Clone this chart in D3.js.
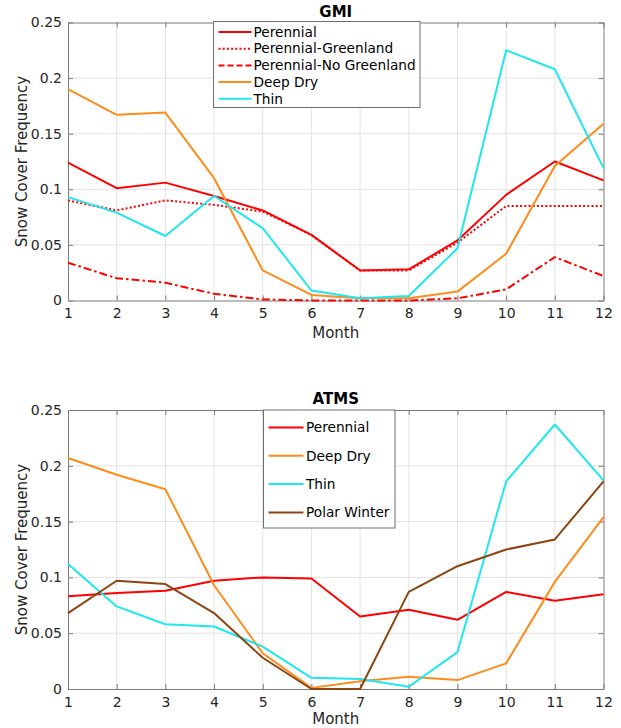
<!DOCTYPE html>
<html>
<head>
<meta charset="utf-8">
<script src="https://cdn.jsdelivr.net/npm/d3@7"></script>
<style>
  html, body { margin: 0; padding: 0; background: #fff; }
  svg { display: block; font-family: "DejaVu Sans", sans-serif; }
</style>
</head>
<body>
<svg id="chart" width="621" height="728"></svg>
<script>
// Monthly snow cover frequency by snow class
const months = [1, 2, 3, 4, 5, 6, 7, 8, 9, 10, 11, 12];
const yTicks = [0, 0.05, 0.1, 0.15, 0.2, 0.25];
const yTickLabels = ["0", "0.05", "0.1", "0.15", "0.2", "0.25"];

// GMI panel
const gmiPerennial      = [0.124, 0.101, 0.106, 0.094, 0.081, 0.059, 0.027, 0.028, 0.054, 0.095, 0.125, 0.108];
const gmiPerGreenland   = [0.090, 0.081, 0.090, 0.086, 0.080, 0.059, 0.027, 0.027, 0.052, 0.085, 0.085, 0.085];
const gmiPerNoGreenland = [0.034, 0.020, 0.016, 0.006, 0.001, 0.000, 0.000, 0.000, 0.002, 0.010, 0.039, 0.022];
const gmiDeepDry        = [0.190, 0.167, 0.169, 0.110, 0.027, 0.005, 0.002, 0.002, 0.008, 0.042, 0.121, 0.159];
const gmiThin           = [0.093, 0.079, 0.058, 0.094, 0.065, 0.009, 0.002, 0.004, 0.047, 0.225, 0.208, 0.119];

// ATMS panel
const atmsPerennial   = [0.083, 0.086, 0.088, 0.097, 0.100, 0.099, 0.065, 0.071, 0.062, 0.087, 0.079, 0.085];
const atmsDeepDry     = [0.207, 0.192, 0.179, 0.093, 0.032, 0.001, 0.007, 0.011, 0.008, 0.023, 0.096, 0.154];
const atmsThin        = [0.112, 0.074, 0.058, 0.056, 0.038, 0.010, 0.009, 0.002, 0.033, 0.186, 0.237, 0.187];
const atmsPolarWinter = [0.068, 0.097, 0.094, 0.068, 0.028, 0.000, 0.000, 0.087, 0.110, 0.125, 0.134, 0.186];

const RED = "#ff0000", ORANGE = "#ff8c1a", CYAN = "#1ee8ee", BROWN = "#8b4513";

const panels = [
  {
    title: "GMI", top: 22.5, bottom: 300.5, xLabelGap: 37,
    legend: { x: 213.5, y: 21.5, w: 206.5, h: 86, rowH: 16.7, first: 10.5, lineLen: 33, textX: 40 },
    series: [
      { name: "Perennial", values: gmiPerennial, color: RED, dash: null },
      { name: "Perennial-Greenland", values: gmiPerGreenland, color: RED, dash: "2,2.2" },
      { name: "Perennial-No Greenland", values: gmiPerNoGreenland, color: RED, dash: "8,3,2.5,3", legendDash: "6,3" },
      { name: "Deep Dry", values: gmiDeepDry, color: ORANGE, dash: null },
      { name: "Thin", values: gmiThin, color: CYAN, dash: null }
    ]
  },
  {
    title: "ATMS", top: 410, bottom: 689, xLabelGap: 34.5,
    legend: { x: 263.5, y: 410, w: 131.5, h: 118, rowH: 28.3, first: 17.5, lineLen: 35, textX: 42.5 },
    series: [
      { name: "Perennial", values: atmsPerennial, color: RED, dash: null },
      { name: "Deep Dry", values: atmsDeepDry, color: ORANGE, dash: null },
      { name: "Thin", values: atmsThin, color: CYAN, dash: null },
      { name: "Polar Winter", values: atmsPolarWinter, color: BROWN, dash: null }
    ]
  }
];

const svg = d3.select("#chart");
svg.append("rect").attr("width", 621).attr("height", 728).attr("fill", "#fff");

const left = 68, right = 603.5;
const x = d3.scaleLinear().domain([1, 12]).range([left, right]);

panels.forEach(p => {
  const y = d3.scaleLinear().domain([0, 0.25]).range([p.bottom, p.top]);
  const g = svg.append("g");

  // grid
  g.append("g").selectAll("line").data(months.slice(1, -1)).join("line")
    .attr("x1", d => x(d)).attr("x2", d => x(d))
    .attr("y1", p.top).attr("y2", p.bottom)
    .attr("stroke", "#e3e3e3").attr("stroke-width", 1);
  g.append("g").selectAll("line").data(yTicks.slice(1, -1)).join("line")
    .attr("x1", left).attr("x2", right)
    .attr("y1", d => y(d)).attr("y2", d => y(d))
    .attr("stroke", "#e3e3e3").attr("stroke-width", 1);

  // axes (ticks pointing inward on all four sides)
  const axColor = "#7a7a7a";
  const fmtY = d => yTickLabels[yTicks.indexOf(d)];
  const axL = g.append("g").attr("transform", `translate(${left},0)`)
    .call(d3.axisLeft(y).tickValues(yTicks).tickFormat(fmtY).tickSizeInner(-5).tickSizeOuter(0).tickPadding(6));
  const axR = g.append("g").attr("transform", `translate(${right},0)`)
    .call(d3.axisRight(y).tickValues(yTicks).tickFormat("").tickSizeInner(-5).tickSizeOuter(0));
  const axB = g.append("g").attr("transform", `translate(0,${p.bottom})`)
    .call(d3.axisBottom(x).tickValues(months).tickFormat(d3.format("d")).tickSizeInner(-5).tickSizeOuter(0).tickPadding(6));
  const axT = g.append("g").attr("transform", `translate(0,${p.top})`)
    .call(d3.axisTop(x).tickValues(months).tickFormat("").tickSizeInner(-5).tickSizeOuter(0));
  [axL, axR, axB, axT].forEach(a => {
    a.select(".domain").attr("stroke", axColor).attr("stroke-width", 1);
    a.selectAll(".tick line").attr("stroke", axColor);
    a.selectAll(".tick text").attr("fill", "#262626").attr("font-size", 14)
      .attr("font-family", "DejaVu Sans, sans-serif");
  });
  axB.selectAll(".tick text").attr("dy", "0.85em");

  // lines
  const line = d3.line().x((d, i) => x(months[i])).y(d => y(d));
  p.series.forEach(s => {
    g.append("path").datum(s.values)
      .attr("d", line)
      .attr("fill", "none")
      .attr("stroke", s.color)
      .attr("stroke-width", 2)
      .attr("stroke-dasharray", s.dash)
      .attr("stroke-linejoin", "round");
  });

  // title and axis labels
  g.append("text").attr("x", (left + right) / 2).attr("y", p.top - 6)
    .attr("text-anchor", "middle").attr("font-size", 15).attr("font-weight", "bold")
    .attr("fill", "#000").text(p.title);
  g.append("text").attr("x", (left + right) / 2).attr("y", p.bottom + p.xLabelGap)
    .attr("text-anchor", "middle").attr("font-size", 15).attr("fill", "#262626").text("Month");
  g.append("text")
    .attr("transform", `translate(27,${(p.top + p.bottom) / 2}) rotate(-90)`)
    .attr("text-anchor", "middle").attr("font-size", 15).attr("fill", "#262626")
    .text("Snow Cover Frequency");

  // legend
  const L = p.legend;
  const lg = g.append("g").attr("transform", `translate(${L.x},${L.y})`);
  lg.append("rect").attr("width", L.w).attr("height", L.h)
    .attr("fill", "#fff").attr("stroke", "#6e6e6e").attr("stroke-width", 1);
  p.series.forEach((s, i) => {
    const cy = L.first + i * L.rowH;
    lg.append("line").attr("x1", 5).attr("x2", 5 + L.lineLen).attr("y1", cy).attr("y2", cy)
      .attr("stroke", s.color).attr("stroke-width", 2)
      .attr("stroke-dasharray", s.legendDash || s.dash);
    lg.append("text").attr("x", L.textX).attr("y", cy).attr("dy", "0.35em")
      .attr("font-size", 13.7).attr("fill", "#000").text(s.name);
  });
});
</script>
</body>
</html>
